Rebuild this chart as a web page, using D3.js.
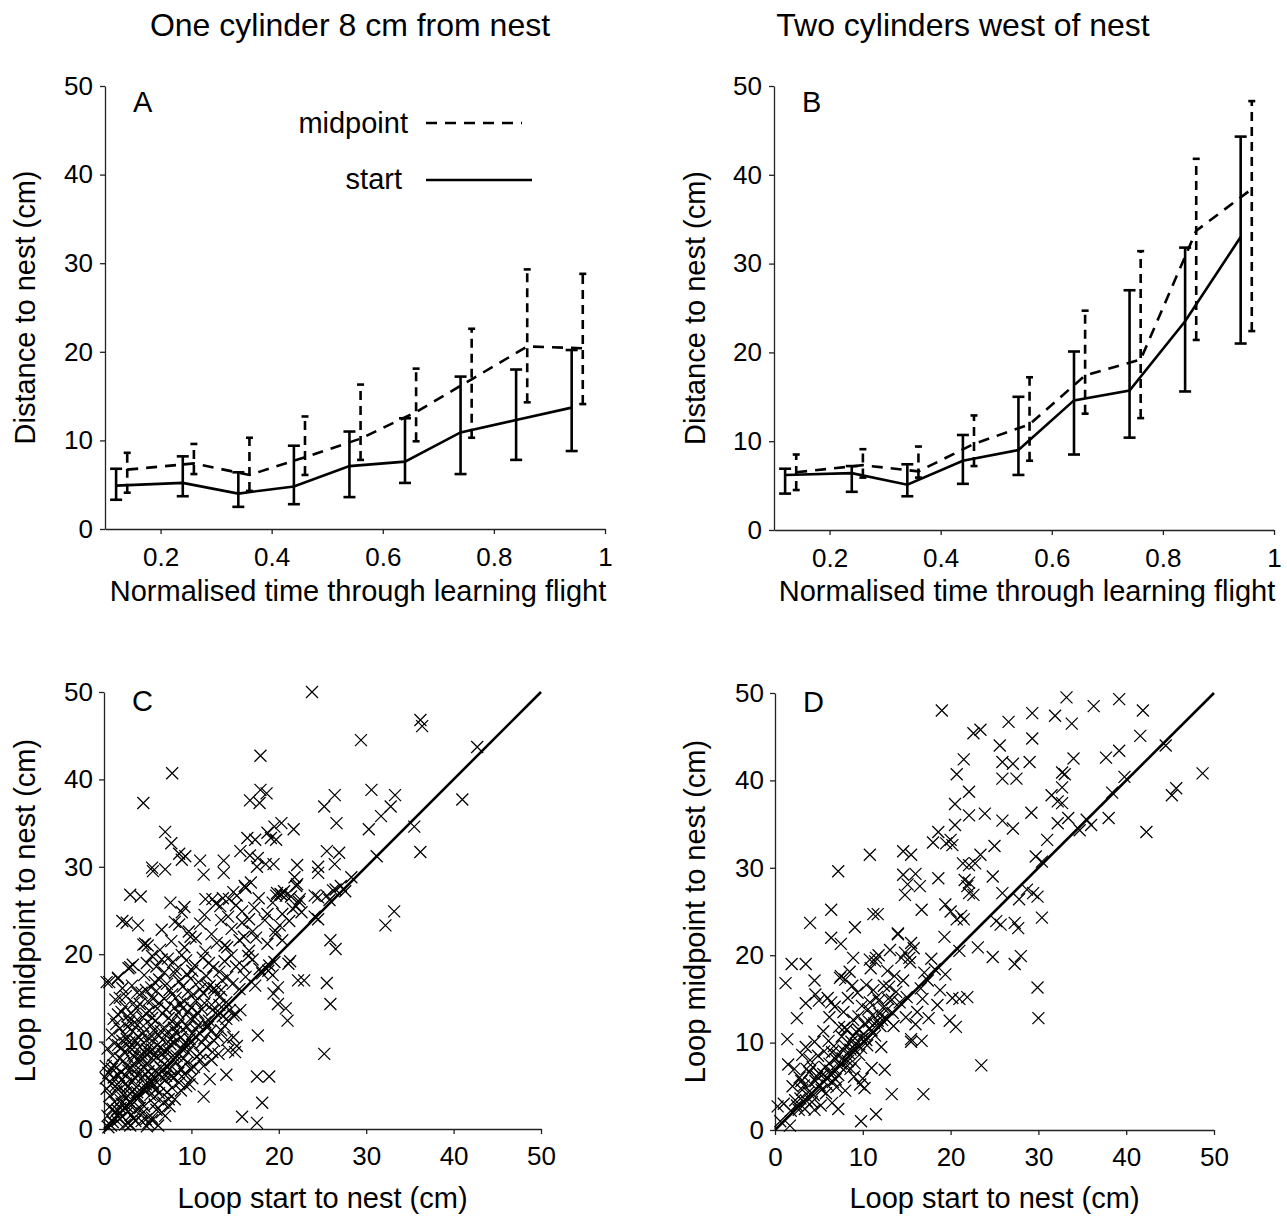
<!DOCTYPE html>
<html>
<head>
<meta charset="utf-8">
<script src="https://cdn.jsdelivr.net/npm/d3@7"></script>
<style>
  body { margin: 0; background: #fff; }
  text { font-family: "Liberation Sans", Arial, sans-serif; fill: #000; }
</style>
</head>
<body>
<svg id="chart" width="1287" height="1220"></svg>
<script>
// ---------- data ----------
const timeStart = [0.12, 0.24, 0.34, 0.44, 0.54, 0.64, 0.74, 0.84, 0.94];
const timeMid   = [0.14, 0.26, 0.36, 0.46, 0.56, 0.66, 0.76, 0.86, 0.96];
const timeTicks = [0.2, 0.4, 0.6, 0.8, 1];
const distTicks = [0, 10, 20, 30, 40, 50];

// panel A: one cylinder 8 cm from nest
const aStartMean = [4.9, 5.2, 4.0, 4.8, 7.1, 7.6, 10.9, 12.3, 13.7];
const aStartLo   = [3.3, 3.7, 2.5, 2.8, 3.6, 5.2, 6.2, 7.8, 8.8];
const aStartHi   = [6.8, 8.2, 6.4, 9.4, 11.0, 12.5, 17.2, 18.0, 20.2];
const aMidMean   = [6.7, 7.4, 6.1, 8.1, 10.2, 13.2, 16.9, 20.6, 20.4];
const aMidLo     = [4.1, 6.2, 4.3, 6.1, 7.8, 9.9, 10.3, 14.3, 14.1];
const aMidHi     = [8.6, 9.6, 10.3, 12.7, 16.3, 18.1, 22.6, 29.3, 28.8];

// panel B: two cylinders west of nest
const bStartMean = [6.2, 6.4, 5.1, 7.8, 9.0, 14.6, 15.7, 23.5, 33.0];
const bStartLo   = [4.1, 4.3, 3.8, 5.2, 6.2, 8.5, 10.4, 15.6, 21.0];
const bStartHi   = [6.9, 7.2, 7.4, 10.7, 15.0, 20.1, 27.0, 31.8, 44.3];
const bMidMean   = [6.5, 7.3, 6.6, 9.7, 11.9, 17.4, 19.2, 33.7, 38.4];
const bMidLo     = [4.5, 5.9, 5.9, 7.2, 7.8, 13.1, 12.6, 21.4, 22.4];
const bMidHi     = [8.5, 9.1, 9.4, 12.9, 17.2, 24.7, 31.4, 41.8, 48.3];

// panel C: loop start vs loop midpoint distance (one cylinder)
const cLoops = [
  [23.8,50.0],[36.2,46.8],[36.4,46.1],[29.4,44.5],[42.7,43.7],[17.9,42.7],[7.8,40.7],[17.9,38.8],[18.6,38.4],
  [16.7,37.6],[17.8,37.3],[4.5,37.3],[30.6,38.8],[33.3,38.2],[26.4,38.2],[41.0,37.7],[25.2,36.9],[32.8,36.9],
  [31.7,35.8],[26.6,35.0],[35.5,34.6],[30.3,34.3],[7.0,34.0],[7.7,32.7],[20.3,35.0],[19.5,34.6],[21.7,34.3],
  [18.7,33.9],[19.1,33.3],[19.7,33.1],[16.4,33.3],[17.3,33.1],[15.6,31.8],[16.7,31.3],[17.6,31.0],[8.6,31.5],
  [9.3,31.2],[8.9,30.8],[11.0,30.7],[11.4,29.1],[13.7,30.7],[13.7,29.3],[17.5,30.0],[18.5,30.3],[19.4,30.3],
  [22.1,30.2],[24.5,30.0],[24.5,29.3],[25.5,31.8],[26.9,31.6],[26.4,30.3],[31.2,31.2],[36.2,31.7],[5.6,29.5],
  [7.0,29.7],[3.0,26.8],[4.2,26.6],[28.3,28.8],[27.6,27.2],[26.5,27.4],[25.5,26.7],[24.1,26.7],[21.8,28.8],
  [22.1,28.0],[20.2,26.9],[19.7,26.7],[20.8,26.7],[16.8,28.2],[16.1,27.8],[15.2,26.7],[14.3,26.3],[12.4,26.3],
  [13.3,25.5],[22.4,26.3],[22.0,25.5],[24.1,24.3],[24.5,24.0],[32.2,23.3],[33.2,24.9],[25.9,21.6],[26.5,20.6],
  [21.3,19.2],[21.1,18.9],[22.2,17.0],[22.9,17.0],[25.5,16.7],[19.9,14.3],[20.8,13.8],[21.0,12.4],[25.9,14.3],
  [25.2,8.6],[17.6,10.7],[17.5,6.0],[18.9,6.0],[18.1,3.0],[15.8,1.4],[17.5,0.7],[14.0,6.2],[12.1,5.7],
  [11.4,3.7],[19.9,16.2],[19.4,15.5],[18.8,18.1],[19.3,17.6],[4.7,21.2],[5.0,21.0],[2.1,23.8],[2.6,23.6],
  [3.9,23.3],[0.6,16.8],[1.6,17.2],[3.0,18.5],[5.5,29.9],
  [1.0,0.8],[1.8,1.2],[2.4,0.5],[3.1,1.6],[3.6,0.9],[4.4,1.8],[5.5,1.0],[6.2,0.4],[2.8,2.0],[1.3,1.9],
  [0.4,1.5],[4.9,0.3],[7.0,1.5],[2.8,0.7],[5.1,0.7],[5.5,1.3],
  [0.6,2.5],[1.2,3.1],[1.9,2.4],[2.5,3.6],[3.2,2.8],[3.9,3.5],[4.6,2.6],[5.3,3.9],[6.0,2.2],[6.8,3.0],
  [7.5,2.6],[2.2,3.9],[1.5,2.2],[3.6,2.1],[8.1,3.4],
  [0.3,4.6],[0.9,5.2],[1.4,4.3],[2.0,5.6],[2.7,4.8],[3.3,5.5],[3.8,4.2],[4.4,5.9],[5.0,4.5],[5.6,5.2],
  [6.3,4.1],[7.0,5.6],[7.8,4.7],[8.6,5.3],[9.4,4.9],[10.1,5.8],[1.7,4.9],[2.4,4.1],[4.8,5.1],[6.6,5.9],
  [0.2,5.8],
  [0.5,6.4],[1.1,7.3],[1.6,6.2],[2.2,7.8],[2.8,6.7],[3.4,7.5],[3.9,6.1],[4.5,7.1],[5.1,6.6],[5.7,7.9],
  [6.2,6.3],[6.9,7.4],[7.5,6.8],[8.2,7.7],[8.8,6.9],[9.5,7.6],[10.3,7.1],[11.0,7.9],[2.5,6.1],[3.1,7.0],
  [4.2,7.8],[5.4,6.2],[6.5,7.0],[7.1,6.1],[1.4,7.0],[0.2,7.2],[9.2,6.3],
  [0.4,9.2],[1.0,8.4],[1.6,9.6],[2.3,8.8],[2.9,9.9],[3.5,8.3],[4.1,9.4],[4.7,8.7],[5.2,9.8],[5.8,8.5],
  [6.4,9.3],[7.0,8.9],[7.6,9.7],[8.3,8.4],[8.9,9.2],[9.6,8.8],[10.2,9.6],[11.0,8.6],[11.7,9.4],[12.4,8.8],
  [14.2,9.0],[15.0,8.8],[15.2,9.5],[3.2,9.1],[4.4,8.1],[5.5,9.1],[6.9,8.2],[2.0,9.3],[8.0,9.9],[9.3,9.9],
  [0.9,10.8],[1.8,11.5],[2.6,10.3],[3.3,11.2],[3.9,10.6],[4.5,11.8],[5.1,10.4],[5.7,11.3],[6.3,10.7],[6.9,11.6],
  [7.6,10.2],[8.2,11.1],[8.8,10.5],[9.5,11.7],[10.1,10.9],[10.8,11.9],[11.5,10.4],[12.2,11.2],[13.0,10.6],[14.8,10.5],
  [13.8,11.8],[2.1,10.1],[4.2,10.2],[5.4,11.9],[7.2,11.0],[9.0,11.4],[1.4,12.0],
  [1.1,12.6],[2.0,13.4],[2.9,12.3],[3.7,13.8],[4.4,12.8],[5.2,13.5],[5.9,12.4],[6.7,13.2],[7.4,12.7],[8.1,13.9],
  [8.8,12.5],[9.6,13.4],[10.4,12.8],[11.2,13.7],[12.0,12.4],[12.8,13.3],[13.6,12.9],[14.4,13.6],[15.1,13.1],[3.3,13.0],
  [6.1,13.8],[10.0,13.9],[11.6,12.2],[2.4,14.0],[15.6,13.6],
  [1.3,14.8],[2.5,15.2],[3.4,14.4],[4.3,15.6],[5.0,14.6],[6.0,15.8],[6.9,14.9],[7.8,15.4],[8.7,14.3],[9.6,15.7],
  [10.5,14.7],[11.4,15.5],[12.3,14.2],[13.2,15.1],[14.0,14.5],[4.8,15.9],[8.2,15.0],[12.7,15.8],[1.8,15.0],
  [0.3,16.8],[1.6,17.3],[3.2,16.4],[4.6,17.6],[5.4,16.2],[6.3,17.1],[7.2,16.6],[8.1,17.8],[9.0,16.3],[9.9,17.2],
  [10.8,16.8],[11.7,17.5],[12.6,16.1],[13.5,17.0],[14.7,16.6],[16.2,17.4],[17.3,16.4],[18.1,17.8],[6.9,17.9],[11.0,16.0],
  [12.1,16.4],
  [2.8,18.4],[3.3,18.8],[4.9,19.0],[6.0,18.6],[7.3,19.5],[8.2,18.2],[9.4,19.3],[10.4,18.7],[11.3,19.6],[12.5,18.5],
  [13.8,19.2],[15.1,18.6],[16.5,19.8],[17.8,18.3],[18.9,18.7],[19.5,19.1],[5.5,19.8],[8.9,19.9],[14.6,19.9],
  [4.5,21.1],[6.4,20.5],[7.7,21.5],[9.2,20.8],[10.5,21.8],[11.6,20.3],[12.9,21.3],[13.8,21.0],[14.1,20.8],[15.5,21.6],
  [16.6,20.4],[17.4,21.9],[18.7,21.2],[19.6,22.3],[20.4,21.6],[9.9,22.0],[16.0,22.0],
  [6.6,22.8],[8.1,23.7],[8.6,23.4],[9.7,22.6],[11.0,23.5],[12.3,22.3],[13.4,23.9],[14.6,22.9],[15.8,23.6],[17.0,22.6],
  [18.4,23.9],[19.6,22.7],[20.1,23.3],[21.2,23.8],[16.6,24.0],[22.6,24.8],
  [8.9,24.8],[9.2,25.4],[7.6,25.9],[11.5,24.5],[12.8,25.8],[14.2,24.3],[15.1,25.6],[15.8,24.9],[17.2,25.3],[18.7,24.6],
  [19.3,25.9],[20.4,24.6],[21.6,25.2],[22.3,26.0],
  [11.6,26.3],[14.8,27.1],[16.2,27.6],[19.8,27.0],[20.3,26.8],[20.6,27.2],[21.4,26.6],[22.0,27.8],[24.5,26.5],[26.2,27.3],
  [27.1,27.8],[25.8,26.2],[13.6,26.4],[17.7,26.4],
  [0.8,0.4],[1.5,0.9],[2.1,1.4],[2.6,2.6],[3.4,1.2],[4.1,2.4],[4.8,1.1],[5.8,2.8],[6.6,1.9],[1.0,2.3],
  [3.0,0.4],[4.3,0.9],[0.5,0.2],[2.0,2.9],
  [0.7,3.8],[1.3,4.9],[1.9,3.3],[2.5,5.2],[3.0,4.0],[3.5,5.9],[4.0,3.6],[4.6,4.4],[5.2,5.6],[5.8,3.7],
  [6.4,5.0],[7.2,4.2],[8.0,5.9],[8.8,4.4],[1.1,5.9],[2.9,3.1],[5.5,4.8],[7.4,3.4],[6.0,4.6],[3.7,4.8],[9.8,5.1],
  [0.9,6.9],[1.8,8.1],[2.6,7.2],[3.3,8.4],[3.7,6.8],[4.3,8.6],[4.9,7.4],[5.3,8.8],[5.9,6.7],[6.7,8.6],
  [7.3,7.1],[7.9,8.4],[8.5,6.4],[9.1,8.1],[9.9,6.9],[10.6,8.3],[11.4,7.2],[2.0,6.5],[4.7,6.3],[6.0,8.2],
  [7.7,6.0],[12.3,7.9],[13.1,8.6],
  [1.2,9.8],[2.4,10.8],[3.0,9.3],[3.6,10.1],[4.4,10.9],[4.9,9.1],[5.5,10.6],[6.1,9.6],[6.7,10.2],[7.3,9.0],
  [7.9,10.6],[8.5,11.9],[9.2,9.6],[9.8,10.3],[10.5,11.4],[11.2,9.9],[11.9,11.7],[12.6,10.1],[13.4,11.3],[14.1,10.2],
  [3.8,11.9],[6.5,11.2],[8.0,11.6],[2.7,11.7],
  [1.6,13.1],[2.7,12.9],[3.5,12.2],[4.1,14.3],[4.8,13.2],[5.5,12.7],[6.3,14.4],[7.1,13.7],[7.8,12.3],[8.5,13.3],
  [9.2,14.6],[9.9,12.6],[10.7,13.3],[11.5,14.4],[12.4,13.6],[13.2,14.2],[14.0,12.6],[14.8,13.0],[5.6,14.9],[9.0,13.8],
  [2.1,16.1],[3.8,15.6],[5.8,16.8],[7.5,15.9],[8.6,16.9],[10.2,15.4],[11.9,16.2],[13.4,15.9],[14.1,17.4],[15.5,16.0],
  [16.0,18.5],[10.1,18.1],[12.0,19.0],[13.2,18.0],[7.9,19.1],[6.6,19.4],[17.0,19.4],[9.5,17.7]
];

// panel D: loop start vs loop midpoint distance (two cylinders)
const dLoops = [
  [33.2,49.5],[39.2,49.3],[36.3,48.5],[29.3,47.7],[31.9,47.4],[41.9,48.0],[19.0,48.0],[26.6,46.7],[33.8,46.5],
  [23.4,45.8],[22.6,45.4],[41.6,45.1],[29.3,44.8],[25.6,44.0],[44.5,44.0],[39.2,43.4],[37.7,42.6],[34.0,42.5],
  [21.5,42.4],[25.9,42.1],[27.1,41.9],[29.0,42.1],[32.7,40.9],[33.0,40.7],[20.7,40.7],[25.9,40.2],[27.5,40.2],
  [39.8,40.4],[48.7,40.8],[32.7,39.2],[45.7,39.1],[45.2,38.3],[22.1,38.7],[38.4,38.6],[31.5,38.3],[32.2,37.6],
  [32.7,37.4],[20.5,37.3],[23.9,36.2],[22.1,36.0],[29.2,36.3],[33.4,35.7],[32.2,35.1],[35.5,35.5],[36.0,34.9],
  [34.7,34.3],[38.0,35.7],[25.9,35.4],[27.1,34.5],[31.0,33.2],[42.3,34.1],[18.6,34.1],[20.5,34.9],[20.0,33.2],
  [19.5,32.8],[20.2,32.6],[18.0,32.9],[25.0,32.5],[23.4,31.5],[10.8,31.5],[14.6,31.9],[15.5,31.5],[29.7,31.3],
  [30.4,30.7],[21.4,30.5],[22.1,30.3],[22.8,30.5],[14.6,29.2],[16.0,29.3],[7.2,29.6],[18.6,28.8],[24.8,29.0],
  [21.6,28.6],[22.1,28.3],[21.9,27.9],[15.1,28.1],[16.5,27.9],[14.8,26.9],[25.9,27.1],[28.7,27.5],[29.4,27.1],
  [29.9,26.7],[27.8,26.4],[22.1,27.1],[22.6,26.9],[19.4,25.8],[20.0,25.0],[20.7,24.1],[21.5,24.1],[21.2,24.5],
  [16.7,25.2],[6.4,25.2],[11.2,24.7],[11.7,24.7],[4.0,23.7],[30.4,24.3],[25.2,23.9],[25.7,23.5],[27.3,23.7],
  [27.7,23.1],[9.1,23.2],[14.0,22.4],[19.3,22.1],[23.1,20.9],[6.4,22.0],[7.5,21.3],[15.5,21.4],[14.8,20.3],
  [15.3,19.7],[21.0,20.5],[24.8,19.8],[28.0,19.9],[27.3,19.0],[1.2,16.8],[1.9,19.0],[3.5,19.0],[4.5,17.1],
  [7.5,17.6],[8.0,17.2],[8.9,19.7],[10.8,19.5],[11.5,19.7],[11.8,20.0],[29.9,16.3],[30.0,12.8],[21.0,15.0],
  [21.9,15.2],[19.9,12.5],[20.6,11.8],[23.5,7.4],[16.7,10.2],[15.5,10.4],[16.9,4.1],[13.3,4.1],[11.5,1.8],
  [9.8,1.0],[12.5,6.9],[1.7,0.5],
  [1.0,3.0],[1.8,2.2],[2.5,2.8],[2.9,3.6],[3.4,2.4],[3.8,4.3],[4.2,3.2],[4.5,2.3],[1.5,7.5],[2.2,7.0],
  [2.5,12.8],[1.4,10.4],[3.5,14.5],[4.6,15.5],[3.5,9.5],[3.1,8.6],[4.0,8.0],[4.6,5.6],[5.0,6.5],[5.3,4.6],
  [5.7,7.2],[6.0,5.1],[6.3,6.8],[6.6,5.5],[6.9,8.1],[7.2,6.3],[7.5,7.6],[7.8,9.1],[8.1,7.2],[8.4,8.8],
  [8.7,10.1],[9.0,9.3],[9.3,11.2],[9.6,8.6],[9.9,10.4],[10.2,12.1],[10.5,9.7],[10.8,11.6],[11.1,13.1],[11.4,10.8],
  [11.7,12.5],[12.0,11.9],[12.3,14.0],[12.6,12.8],[13.0,16.4],[13.4,13.4],[13.8,15.8],[14.2,14.6],[14.6,17.1],[15.0,15.2],
  [15.4,19.2],[15.8,20.8],[16.2,13.5],[16.6,16.2],[17.0,18.0],[17.4,17.1],[17.8,19.6],[18.2,18.4],[18.5,14.3],[16.0,12.1],
  [14.9,12.9],[15.5,10.1],[13.5,11.9],[12.1,9.5],[11.0,7.1],[10.0,5.9],[9.7,5.2],[10.2,4.8],[9.0,6.1],[8.0,4.5],
  [7.0,4.9],[6.5,3.1],[7.2,2.4],[5.2,2.8],[4.5,10.1],[5.5,11.3],[6.2,12.9],[6.8,14.1],[7.3,11.8],[7.8,13.5],
  [8.3,15.1],[8.8,16.5],[9.4,15.7],[9.9,14.2],[10.4,16.6],[11.2,16.0],[11.8,14.8],[12.8,18.2],[13.6,17.6],[14.4,19.7],
  [5.0,14.8],[6.0,15.1],[6.4,14.6],[7.4,17.4],[8.5,18.1],[2.0,5.0],[2.8,6.0],[3.3,5.1],[3.9,6.6],[4.3,7.2],
  [5.6,9.0],[6.1,10.2],[6.7,9.6],[7.6,10.7],[8.2,11.5],[8.9,12.6],[9.5,13.0],[10.6,13.8],[11.6,15.2],[12.9,15.0],
  [0.6,1.0],[0.3,2.7],[16.8,15.0],[17.5,12.8],[18.8,16.0],[19.4,17.8],[20.2,15.1],[14.0,22.5],[12.4,16.5],[13.1,20.6],
  [11.4,19.3],[10.9,18.5],
  [2.3,3.4],[2.7,2.3],[3.1,4.6],[3.6,3.3],[4.1,5.3],[4.4,4.0],[4.8,6.1],[5.1,5.1],[5.5,6.4],[5.9,5.9],
  [6.2,7.6],[6.4,6.3],[6.8,7.0],[7.1,8.6],[7.4,7.3],[7.7,8.2],[8.0,9.6],[8.3,7.9],[8.6,9.2],[8.9,10.7],
  [9.2,9.9],[9.5,11.5],[9.8,9.4],[10.1,11.0],[10.4,10.3],[10.7,12.4],[11.0,11.4],[11.3,12.2],[11.9,13.3],[12.2,12.6],
  [12.8,13.8],[13.3,14.9],[5.8,4.2],[6.9,5.8],[8.6,7.0],[3.0,5.6],[4.9,8.5],[3.6,7.0],[6.5,8.9],[9.1,7.6],
  [7.9,11.7],[10.8,14.6]
];
const loopTicks = [0, 10, 20, 30, 40, 50];

// ---------- drawing ----------
const svg = d3.select("#chart");
svg.append("rect").attr("width", 1287).attr("height", 1220).attr("fill", "#fff");

const FONT = "'Liberation Sans', Arial, sans-serif";
const DASH = "11,8";

function styleAxis(g) {
  g.select(".domain").attr("stroke", "#222").attr("stroke-width", 1.3);
  g.selectAll(".tick line").attr("stroke", "#222").attr("stroke-width", 1.3);
  g.selectAll(".tick text").attr("font-size", 26).attr("font-family", FONT).attr("fill", "#000");
}

function label(txt, x, y, size, anchor, rotate) {
  const t = svg.append("text")
    .attr("font-size", size)
    .attr("text-anchor", anchor || "middle")
    .text(txt);
  if (rotate) t.attr("transform", `translate(${x},${y}) rotate(-90)`);
  else t.attr("x", x).attr("y", y);
  return t;
}

function drawAxes(x, y, o, xTicks, yTicks, fmt) {
  svg.append("g")
    .attr("transform", `translate(0,${o.bottom})`)
    .call(d3.axisBottom(x).tickValues(xTicks).tickSize(5).tickSizeOuter(0)
      .tickPadding(o.xPad).tickFormat(fmt))
    .call(styleAxis);
  svg.append("g")
    .attr("transform", `translate(${o.left},0)`)
    .call(d3.axisLeft(y).tickValues(yTicks).tickSize(5).tickSizeOuter(0)
      .tickPadding(o.yPad).tickFormat(d3.format("d")))
    .call(styleAxis);
}

function errorSeries(x, y, t, mean, lo, hi, dashed, cap) {
  const g = svg.append("g")
    .attr("stroke", "#000").attr("stroke-width", 2.6).attr("fill", "none");
  const line = d3.line().x((d, i) => x(t[i])).y(d => y(d));
  g.append("path").attr("d", line(mean))
    .attr("stroke-dasharray", dashed ? DASH : null);
  t.forEach((tv, i) => {
    const cx = x(tv);
    g.append("line").attr("x1", cx).attr("x2", cx)
      .attr("y1", y(lo[i])).attr("y2", y(hi[i]))
      .attr("stroke-dasharray", dashed ? "9,6" : null);
    [lo[i], hi[i]].forEach(v => {
      g.append("line").attr("x1", cx - cap).attr("x2", cx + cap)
        .attr("y1", y(v)).attr("y2", y(v));
    });
  });
}

function linePanel(o) {
  const x = d3.scaleLinear().domain([0.1, 1]).range([o.left, o.right]);
  const y = d3.scaleLinear().domain([0, 50]).range([o.bottom, o.top]);
  drawAxes(x, y, o, timeTicks, distTicks, d3.format(""));
  errorSeries(x, y, timeMid, o.midMean, o.midLo, o.midHi, true, 3.5);
  errorSeries(x, y, timeStart, o.startMean, o.startLo, o.startHi, false, 6);

  label(o.letter, o.left + 28, o.top + 26, 29, "start");
  label("Normalised time through learning flight", (o.left + o.right) / 2 + 3, 601, 29);
  label("Distance to nest (cm)", o.ytx, (o.top + o.bottom) / 2, 29, "middle", true);
}

function scatterPanel(o) {
  const x = d3.scaleLinear().domain([0, 50]).range([o.left, o.right]);
  const y = d3.scaleLinear().domain([0, 50]).range([o.bottom, o.top]);
  drawAxes(x, y, o, loopTicks, loopTicks, d3.format("d"));

  svg.append("g").selectAll("path")
    .data(o.points)
    .join("path")
    .attr("transform", d => `translate(${x(d[0])},${y(d[1])})`)
    .attr("d", "M-6,-6L6,6M-6,6L6,-6")
    .attr("stroke", "#000").attr("stroke-width", 1.25).attr("fill", "none");

  svg.append("line")
    .attr("x1", x(0)).attr("y1", y(0)).attr("x2", x(50)).attr("y2", y(50))
    .attr("stroke", "#000").attr("stroke-width", 2.6);

  label(o.letter, o.left + 28, o.top + 19, 29, "start");
  label("Loop start to nest (cm)", (o.left + o.right) / 2, 1208, 29);
  label("Loop midpoint to nest (cm)", o.ytx, (o.top + o.bottom) / 2, 29, "middle", true);
}

// column titles
label("One cylinder 8 cm from nest", 350, 36, 32);
label("Two cylinders west of nest", 963, 36, 32);

linePanel({
  left: 105, right: 605, top: 86, bottom: 529, xPad: 14, yPad: 7, ytx: 35, letter: "A",
  startMean: aStartMean, startLo: aStartLo, startHi: aStartHi,
  midMean: aMidMean, midLo: aMidLo, midHi: aMidHi
});
linePanel({
  left: 774, right: 1274, top: 86, bottom: 530, xPad: 14, yPad: 7, ytx: 705, letter: "B",
  startMean: bStartMean, startLo: bStartLo, startHi: bStartHi,
  midMean: bMidMean, midLo: bMidLo, midHi: bMidHi
});

// legend in panel A
const leg = svg.append("g");
label("midpoint", 408, 133, 29, "end");
label("start", 402, 189, 29, "end");
leg.append("line").attr("x1", 426).attr("x2", 522).attr("y1", 123).attr("y2", 123)
  .attr("stroke", "#000").attr("stroke-width", 2.6).attr("stroke-dasharray", DASH);
leg.append("line").attr("x1", 426).attr("x2", 532).attr("y1", 180).attr("y2", 180)
  .attr("stroke", "#000").attr("stroke-width", 2.6);

scatterPanel({
  left: 104, right: 541, top: 692, bottom: 1129, xPad: 13, yPad: 6, ytx: 35, letter: "C",
  points: cLoops
});
scatterPanel({
  left: 775, right: 1214, top: 693, bottom: 1130, xPad: 13, yPad: 6, ytx: 705, letter: "D",
  points: dLoops
});
</script>
</body>
</html>
